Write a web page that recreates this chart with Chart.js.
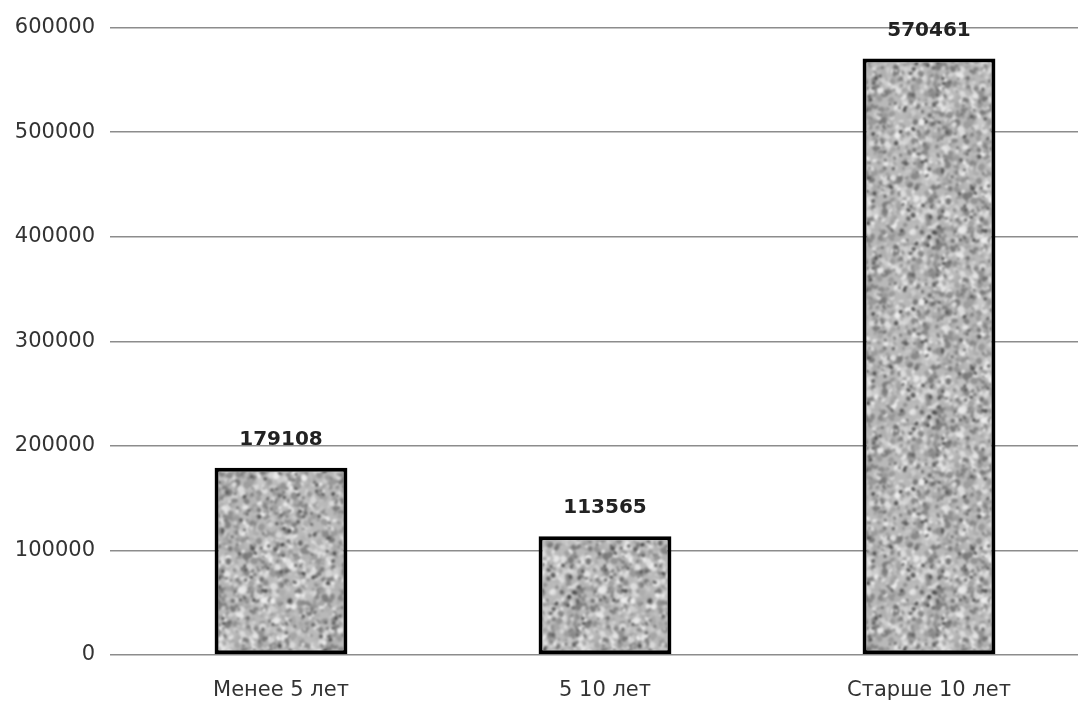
<!DOCTYPE html>
<html>
<head>
  <title>Распределение по сроку</title>
  <script src="https://cdn.jsdelivr.net/npm/chart.js"></script>
  <style>
    html, body { margin: 0; padding: 0; background: #fff; overflow: hidden; }
    canvas { display: block; }
  </style>
</head>
<body>
  <canvas id="ageChart" width="1100" height="701"></canvas>

  <script>
    const categories = ["Менее 5 лет", "5 10 лет", "Старше 10 лет"];
    const values = [179108, 113565, 570461];
    const yTicks = [0, 100000, 200000, 300000, 400000, 500000, 600000];

    const FONT = "'DejaVu Sans', sans-serif";

    // granite-like fill, seeded so it looks the same every run
    function granitePattern(ctx) {
      let seed = 12345;
      function rnd() {
        seed = (seed * 1103515245 + 12345) & 0x7fffffff;
        return seed / 0x7fffffff;
      }
      const size = 180;
      const raw = document.createElement('canvas');
      raw.width = raw.height = size;
      const r = raw.getContext('2d');
      r.fillStyle = '#b9b9b9';
      r.fillRect(0, 0, size, size);
      function blob(x, y, rad, g) {
        r.fillStyle = `rgb(${g},${g},${g})`;
        for (let dx = -size; dx <= size; dx += size) {
          for (let dy = -size; dy <= size; dy += size) {
            r.beginPath();
            r.ellipse(x + dx, y + dy, rad, rad * (0.6 + rnd() * 0.6), rnd() * 3, 0, Math.PI * 2);
            r.fill();
          }
        }
      }
      for (let i = 0; i < 2200; i++) {
        blob(rnd() * size, rnd() * size, rnd() * 2.2 + 1.4, Math.floor(rnd() * 120 + 120));
      }
      for (let i = 0; i < 220; i++) {
        blob(rnd() * size, rnd() * size, rnd() * 1.4 + 1.0, Math.floor(rnd() * 50 + 70));
      }
      // blur a 3x3 tiling and keep the middle tile so the edges wrap cleanly
      const big = document.createElement('canvas');
      big.width = big.height = size * 3;
      const b = big.getContext('2d');
      b.filter = 'blur(1.2px)';
      const tiled = document.createElement('canvas');
      tiled.width = tiled.height = size * 3;
      const t = tiled.getContext('2d');
      for (let i = 0; i < 3; i++) for (let j = 0; j < 3; j++) t.drawImage(raw, i * size, j * size);
      b.drawImage(tiled, 0, 0);
      const soft = document.createElement('canvas');
      soft.width = soft.height = size;
      soft.getContext('2d').drawImage(big, size, size, size, size, 0, 0, size, size);
      return ctx.createPattern(soft, 'repeat');
    }

    const valueLabels = {
      id: 'valueLabels',
      afterDatasetsDraw(chart) {
        const c = chart.ctx;
        const meta = chart.getDatasetMeta(0);
        c.save();
        c.font = "bold 20px " + FONT;
        c.fillStyle = '#222';
        c.textAlign = 'center';
        c.textBaseline = 'middle';
        meta.data.forEach((bar, i) => {
          c.fillText(String(chart.data.datasets[0].data[i]), bar.x, bar.y - 28);
        });
        c.restore();
      }
    };

    const ctx = document.getElementById('ageChart').getContext('2d');
    const ageChart = new Chart(ctx, {
      type: 'bar',
      data: {
        labels: categories,
        datasets: [{
          data: values,
          backgroundColor: granitePattern(ctx),
          borderColor: '#000',
          borderWidth: 4,
          borderSkipped: false,
          barPercentage: 0.41,
          categoryPercentage: 1
        }]
      },
      plugins: [valueLabels],
      options: {
        responsive: false,
        animation: false,
        layout: { padding: { top: 27, right: 9, left: 0, bottom: 0 } },
        plugins: {
          legend: { display: false },
          tooltip: { enabled: false }
        },
        scales: {
          x: {
            grid: { display: false },
            border: { display: false },
            ticks: {
              color: '#333',
              font: { family: FONT, size: 21 },
              padding: 15
            },
            afterFit: s => { s.height = 46; }
          },
          y: {
            min: 0,
            max: 600000,
            afterBuildTicks: s => { s.ticks = yTicks.map(v => ({ value: v })); },
            grid: { color: '#8c8c8c', lineWidth: 1.5, tickLength: 9 },
            border: { display: false },
            ticks: {
              color: '#333',
              font: { family: FONT, size: 21 },
              padding: 15,
              callback: v => String(v)
            },
            afterFit: s => { s.width = 119; }
          }
        }
      }
    });
  </script>
</body>
</html>
